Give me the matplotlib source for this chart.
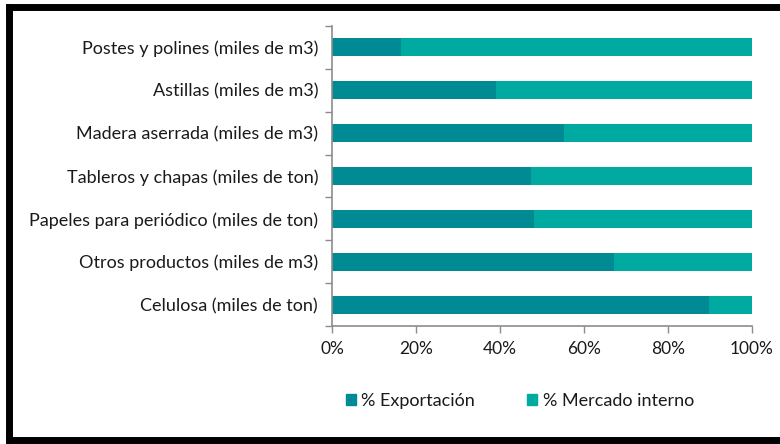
import matplotlib.pyplot as plt
from matplotlib.lines import Line2D
from matplotlib.patches import Patch
import numpy as np

categorias = ['Postes y polines (miles de m3)',
              'Astillas (miles de m3)',
              'Madera aserrada (miles de m3)',
              'Tableros y chapas (miles de ton)',
              'Papeles para periódico (miles de ton)',
              'Otros productos (miles de m3)',
              'Celulosa (miles de ton)']
exportacion = [16.4, 39.0, 55.3, 47.4, 48.1, 67.2, 89.8]
mercado_interno = [100 - v for v in exportacion]
ticks_x = [0, 20, 40, 60, 80, 100]

c_exp = '#008A94'
c_int = '#00AAA0'
gris = '#8c8c8c'

plt.rcParams['font.family'] = ['Lato', 'DejaVu Sans']

fig = plt.figure(figsize=(7.8, 4.44), dpi=100)
ax = fig.add_axes([332/780, 1 - 326/444, 420/780, 300/444])

y = np.arange(len(categorias))[::-1]
ax.barh(y, exportacion, height=0.42, color=c_exp, label='% Exportación')
ax.barh(y, mercado_interno, left=exportacion, height=0.42, color=c_int,
        label='% Mercado interno')

ax.set_xlim(0, 100)
ax.set_ylim(-0.5, len(categorias) - 0.5)
ax.set_xticks(ticks_x)
ax.set_xticklabels([f'{t}%' for t in ticks_x])
ax.set_yticks(y)
ax.set_yticklabels(categorias)
ax.set_yticks(np.arange(-0.5, len(categorias)), minor=True)
ax.tick_params(axis='y', which='major', length=0, pad=10, labelsize=13)
ax.tick_params(axis='y', which='minor', length=5, color=gris, width=1)
ax.tick_params(axis='x', length=5, color=gris, width=1, labelsize=12.5, pad=6)
for lab in ax.get_xticklabels() + ax.get_yticklabels():
    lab.set_color('#1a1a1a')

for s in ['top', 'right']:
    ax.spines[s].set_visible(False)
for s in ['left', 'bottom']:
    ax.spines[s].set_color(gris)
    ax.spines[s].set_linewidth(1.2)

handles = [Patch(color=c_exp), Patch(color=c_int)]
fig.legend(handles, ['% Exportación', '% Mercado interno'],
           loc='center', bbox_to_anchor=(520/780, 1 - 401/444), ncol=2,
           frameon=False, fontsize=13, handlelength=0.55, handleheight=0.55,
           handletextpad=0.3, columnspacing=2.9, labelcolor='#1a1a1a')

# marco negro
lw = 5
fig.add_artist(Line2D([8.5/780, 1.0], [1 - 7/444, 1 - 7/444], color='black', lw=lw))
fig.add_artist(Line2D([8.5/780, 8.5/780], [1 - 7/444, 1 - 439.5/444], color='black', lw=lw))
fig.add_artist(Line2D([8.5/780, 1.0], [1 - 439.5/444, 1 - 439.5/444], color='black', lw=lw))

fig.savefig('out.png', dpi=100)
